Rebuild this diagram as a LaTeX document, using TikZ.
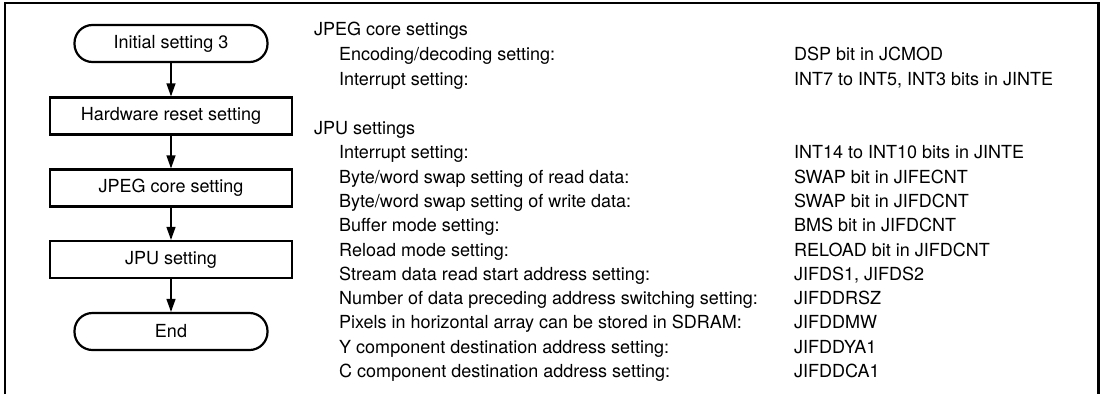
\documentclass[tikz,border=0pt]{standalone}
\usepackage{fontspec}
\setmainfont{TeX Gyre Heros}
\usetikzlibrary{arrows.meta}
\begin{document}
\begin{tikzpicture}[x=1pt,y=-1pt,
  txt/.style={anchor=base west,inner sep=0pt,font=\fontsize{18}{21}\selectfont},
  proc/.style={draw,line width=2.2pt,minimum width=242pt,minimum height=37pt,inner sep=0pt,font=\fontsize{18}{21}\selectfont},
  term/.style={draw,line width=2.2pt,rounded corners=18pt,minimum width=193pt,minimum height=37pt,inner sep=0pt,font=\fontsize{18}{21}\selectfont},
  flow/.style={line width=1.2pt,-{Triangle[length=13pt,width=9pt]}}]
\useasboundingbox (0,0) rectangle (1102,394);
\draw[line width=2.5pt] (5,394) -- (5,3) -- (1098.5,3) -- (1098.5,394);
\node[term] (n1) at (171,43.5) {Initial setting 3};
\node[proc] (n2) at (171,116) {Hardware reset setting};
\node[proc] (n3) at (171,188) {JPEG core setting};
\node[proc] (n4) at (171,259.5) {JPU setting};
\node[term] (n5) at (171,331.5) {End};
\draw[flow] (n1) -- (n2);
\draw[flow] (n2) -- (n3);
\draw[flow] (n3) -- (n4);
\draw[flow] (n4) -- (n5);
\node[txt] (h1) at (314,35.5) {JPEG core settings};
\node[txt] (a1) at (339,60.3) {Encoding/decoding setting:};
\node[txt] (b1) at (794,60.3) {DSP bit in JCMOD};
\node[txt] (a2) at (339,85.1) {Interrupt setting:};
\node[txt] (b2) at (794,85.1) {INT7 to INT5, INT3 bits in JINTE};
\node[txt] (h2) at (314,134.5) {JPU settings};
\node[txt] (a3) at (339,158.8) {Interrupt setting:};
\node[txt] (b3) at (794,158.8) {INT14 to INT10 bits in JINTE};
\node[txt] (a4) at (339,183.1) {Byte/word swap setting of read data:};
\node[txt] (b4) at (794,183.1) {SWAP bit in JIFECNT};
\node[txt] (a5) at (339,207.4) {Byte/word swap setting of write data:};
\node[txt] (b5) at (794,207.4) {SWAP bit in JIFDCNT};
\node[txt] (a6) at (339,231.7) {Buffer mode setting:};
\node[txt] (b6) at (794,231.7) {BMS bit in JIFDCNT};
\node[txt] (a7) at (339,256) {Reload mode setting:};
\node[txt] (b7) at (794,256) {RELOAD bit in JIFDCNT};
\node[txt] (a8) at (339,280.3) {Stream data read start address setting:};
\node[txt] (b8) at (794,280.3) {JIFDS1, JIFDS2};
\node[txt] (a9) at (339,304.6) {Number of data preceding address switching setting:};
\node[txt] (b9) at (794,304.6) {JIFDDRSZ};
\node[txt] (a10) at (339,328.9) {Pixels in horizontal array can be stored in SDRAM:};
\node[txt] (b10) at (794,328.9) {JIFDDMW};
\node[txt] (a11) at (339,353.2) {Y component destination address setting:};
\node[txt] (b11) at (794,353.2) {JIFDDYA1};
\node[txt] (a12) at (339,377.5) {C component destination address setting:};
\node[txt] (b12) at (794,377.5) {JIFDDCA1};
\end{tikzpicture}
\end{document}
